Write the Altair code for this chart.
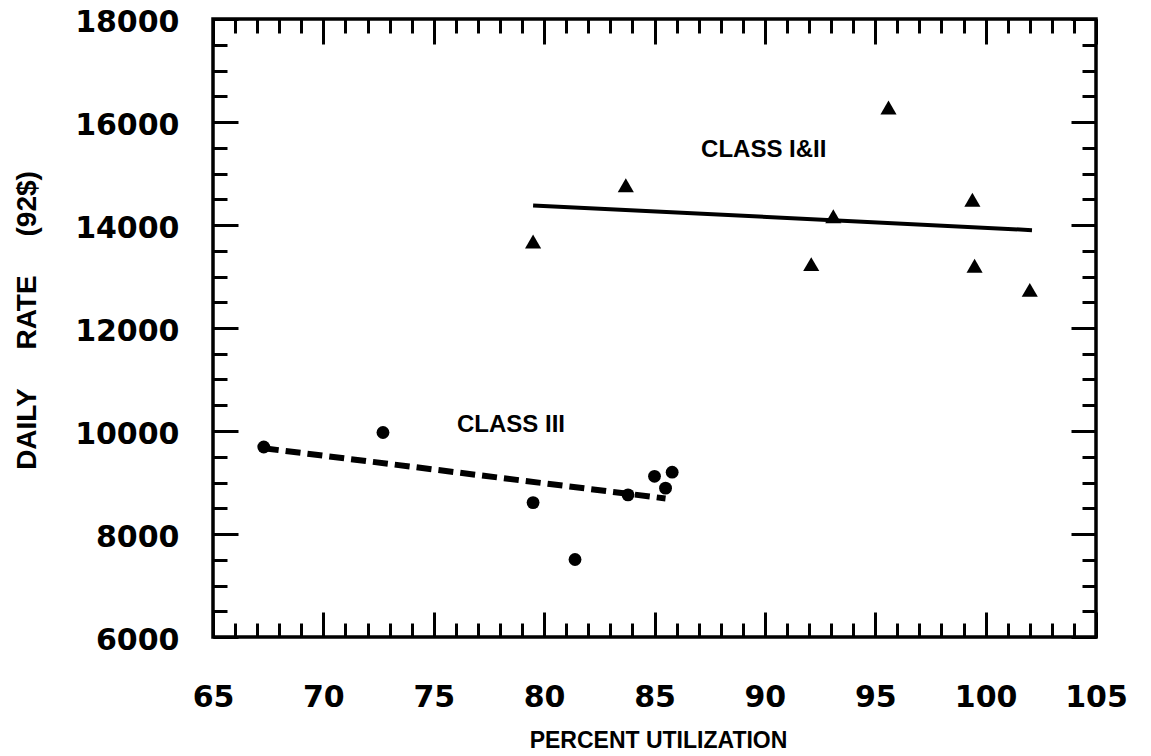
import altair as alt
import pandas as pd

# ---- data ----
class3_x = [67.3, 72.7, 79.5, 81.4, 83.8, 85.0, 85.5, 85.8]
class3_y = [9690, 9970, 8610, 7505, 8760, 9120, 8890, 9200]
class12_x = [79.5, 83.7, 92.1, 93.1, 95.6, 99.4, 99.5, 102.0]
class12_y = [13680, 14770, 13240, 14170, 16280, 14490, 13210, 12740]

fit3_x = [67.3, 85.5]
fit3_y = [9665, 8690]
fit12_x = [79.5, 102.1]
fit12_y = [14380, 13900]

label_text = ["CLASS III", "CLASS I&II"]
label_x = [78.5, 89.95]
label_y = [10110, 15460]

x_major = list(range(65, 106, 5))
x_minor = list(range(65, 106, 1))
y_major = list(range(6000, 18001, 2000))
y_minor = list(range(6000, 18001, 500))

x_title = "PERCENT UTILIZATION"
y_title = "DAILY\u00a0\u00a0\u00a0\u00a0\u00a0RATE\u00a0\u00a0\u00a0\u00a0\u00a0(92$)"

# ---- tables ----
df3 = pd.DataFrame({"x": class3_x, "y": class3_y})
df12 = pd.DataFrame({"x": class12_x, "y": class12_y})
dfit3 = pd.DataFrame({"x": fit3_x, "y": fit3_y})
dfit12 = pd.DataFrame({"x": fit12_x, "y": fit12_y})
dlab = pd.DataFrame({"x": label_x, "y": label_y, "t": label_text})

W, H = 883, 618
xs = alt.Scale(domain=[65, 105], nice=False, zero=False)
ys = alt.Scale(domain=[6000, 18000], nice=False, zero=False)

SANS = "Liberation Sans"


def tick_axis(orient, values, size, offset):
    return alt.Axis(orient=orient, offset=offset, values=values, tickSize=size,
                    tickWidth=3, tickColor="black", ticks=True, labels=False,
                    domain=False, grid=False, title=None)


x_label_axis = alt.Axis(
    orient="bottom", values=x_major, format="d", ticks=False, tickSize=0,
    domain=False, grid=False,
    labelFont="DejaVu Sans", labelFontWeight="bold", labelFontSize=30,
    labelColor="black", labelPadding=45, labelFlush=False, labelOverlap=False,
    title=x_title, titleFont=SANS, titleFontWeight="bold", titleFontSize=23,
    titleColor="black", titleX=445, titleY=110, titleBaseline="alphabetic",
    titleAlign="center")

y_label_axis = alt.Axis(
    orient="left", values=y_major, format="d", ticks=False, tickSize=0,
    domain=False, grid=False,
    labelFont="DejaVu Sans", labelFontWeight="bold", labelFontSize=30,
    labelColor="black", labelPadding=34, labelOffset=3, labelFlush=False,
    labelOverlap=False,
    title=y_title, titleFont=SANS, titleFontWeight="bold",
    titleFontSize=28, titleColor="black", titleX=-178, titleY=301,
    titleAngle=270, titleBaseline="alphabetic", titleAlign="center")

circles = alt.Chart(df3).mark_point(
    shape="circle", filled=True, color="black", size=165, opacity=1
).encode(
    x=alt.X("x:Q", scale=xs, axis=x_label_axis),
    y=alt.Y("y:Q", scale=ys, axis=y_label_axis),
)

triangles = alt.Chart(df12).mark_point(
    shape="triangle-up", filled=True, color="black", size=260, opacity=1
).encode(
    x=alt.X("x:Q", scale=xs, axis=tick_axis("top", x_major, 25, -H)),
    y=alt.Y("y:Q", scale=ys, axis=tick_axis("right", y_major, 25, -W)),
)

dashed = alt.Chart(dfit3).mark_line(
    color="black", strokeWidth=6, strokeDash=[15, 7]
).encode(
    x=alt.X("x:Q", scale=xs, axis=tick_axis("top", x_minor, 14, -H)),
    y=alt.Y("y:Q", scale=ys, axis=tick_axis("right", y_minor, 14, -W)),
)

solid = alt.Chart(dfit12).mark_line(color="black", strokeWidth=4).encode(
    x=alt.X("x:Q", scale=xs, axis=tick_axis("bottom", x_major, 25, -H)),
    y=alt.Y("y:Q", scale=ys, axis=tick_axis("left", y_major, 25, -W)),
)

labels = alt.Chart(dlab).mark_text(
    font=SANS, fontWeight="bold", fontSize=24, color="black",
    align="center", baseline="middle"
).encode(
    x=alt.X("x:Q", scale=xs, axis=tick_axis("bottom", x_minor, 14, -H)),
    y=alt.Y("y:Q", scale=ys, axis=tick_axis("left", y_minor, 14, -W)),
    text="t:N",
)

chart = alt.layer(circles, triangles, dashed, solid, labels).resolve_axis(
    x="independent", y="independent"
).properties(
    width=W, height=H,
    autosize=alt.AutoSizeParams(type="none"),
    padding={"left": 205, "top": 11, "right": 45, "bottom": 118},
    background="white",
).configure_view(stroke="black", strokeWidth=3.5)

chart.save("out.html", embed_options={"renderer": "svg", "actions": False})
